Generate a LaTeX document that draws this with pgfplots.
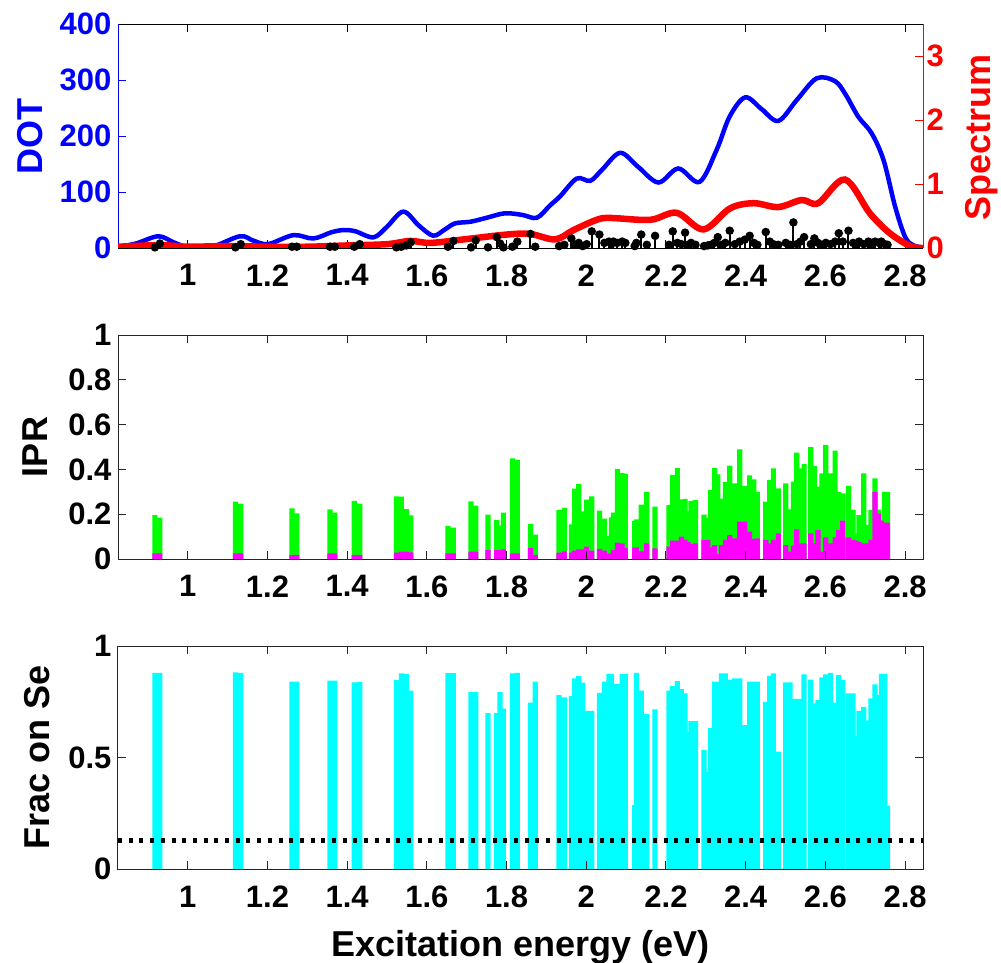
\documentclass[border=0pt]{standalone}
\usepackage{fontspec}
\setmainfont{Liberation Sans}
\usepackage{pgfplots}
\usepackage{pgfplotstable}
\pgfplotsset{compat=1.18}
\definecolor{axgray}{RGB}{38,38,38}
\definecolor{mblue}{RGB}{0,0,255}
\definecolor{mred}{RGB}{255,0,0}
\definecolor{mgreen}{RGB}{0,255,0}
\definecolor{mmag}{RGB}{255,0,255}
\definecolor{mcyan}{RGB}{0,255,255}

\pgfplotstableread{
E ipr mag frac f
0.9175 0.196 0.025 0.880 0.01
0.930 0.185 0.025 0.880 0.07
1.1195 0.256 0.025 0.882 0.01
1.133 0.247 0.025 0.880 0.06
1.2617 0.226 0.018 0.840 0.02
1.2735 0.204 0.018 0.840 0.02
1.357 0.222 0.025 0.845 0.02
1.369 0.207 0.025 0.845 0.02
1.418 0.260 0.018 0.837 0.02
1.4315 0.247 0.018 0.839 0.06
1.5235 0.280 0.028 0.848 0.01
1.536 0.278 0.033 0.878 0.02
1.5486 0.223 0.033 0.875 0.04
1.5596 0.195 0.030 0.800 0.09
1.653 0.147 0.025 0.879 0.02
1.6666 0.140 0.025 0.879 0.11
1.711 0.257 0.033 0.794 0.01
1.7227 0.238 0.033 0.794 0.12
1.7535 0.198 0.040 0.700 0.01
1.7754 0.174 0.040 0.700 0.17
1.7837 0.149 0.040 0.794 0.07
1.792 0.207 0.043 0.720 0.01
1.8146 0.449 0.025 0.878 0.02
1.827 0.443 0.025 0.880 0.10
1.860 0.156 0.050 0.746 0.22
1.872 0.109 0.018 0.840 0.02
1.9318 0.219 0.028 0.780 0.03
1.945 0.228 0.034 0.770 0.05
1.9626 0.155 0.028 0.776 0.15
1.971 0.314 0.037 0.855 0.05
1.981 0.335 0.043 0.866 0.08
1.991 0.213 0.043 0.836 0.03
2.001 0.265 0.055 0.709 0.06
2.0138 0.280 0.037 0.709 0.26
2.033 0.216 0.045 0.790 0.21
2.0455 0.180 0.037 0.840 0.08
2.057 0.103 0.025 0.875 0.10
2.063 0.186 0.025 0.875 0.06
2.068 0.207 0.040 0.830 0.10
2.078 0.402 0.073 0.830 0.08
2.090 0.384 0.070 0.875 0.10
2.098 0.380 0.050 0.875 0.08
2.1215 0.170 0.050 0.288 0.03
2.1257 0.177 0.052 0.880 0.08
2.138 0.243 0.034 0.800 0.21
2.152 0.300 0.070 0.695 0.05
2.1727 0.234 0.048 0.716 0.19
2.2077 0.241 0.055 0.800 0.05
2.217 0.376 0.082 0.820 0.26
2.2286 0.406 0.082 0.843 0.08
2.2387 0.266 0.100 0.807 0.06
2.248 0.268 0.085 0.788 0.24
2.2555 0.213 0.075 0.616 0.05
2.263 0.260 0.067 0.664 0.08
2.274 0.263 0.070 0.664 0.05
2.2956 0.198 0.085 0.534 0.03
2.305 0.183 0.085 0.437 0.04
2.3125 0.308 0.052 0.633 0.05
2.3215 0.406 0.062 0.840 0.08
2.330 0.378 0.022 0.840 0.17
2.339 0.270 0.062 0.878 0.05
2.349 0.344 0.085 0.878 0.08
2.360 0.417 0.107 0.850 0.27
2.3727 0.338 0.092 0.855 0.06
2.385 0.490 0.167 0.855 0.10
2.3977 0.326 0.167 0.646 0.13
2.410 0.373 0.122 0.840 0.19
2.4203 0.356 0.090 0.840 0.08
2.4294 0.300 0.092 0.840 0.05
2.4504 0.256 0.085 0.750 0.25
2.4605 0.353 0.070 0.866 0.10
2.4695 0.405 0.085 0.878 0.06
2.482 0.315 0.115 0.527 0.05
2.5006 0.338 0.062 0.837 0.08
2.5114 0.222 0.033 0.837 0.05
2.5198 0.345 0.060 0.763 0.40
2.5282 0.475 0.132 0.763 0.06
2.5373 0.405 0.070 0.763 0.10
2.5466 0.424 0.070 0.873 0.17
2.5634 0.500 0.115 0.850 0.06
2.5724 0.415 0.070 0.743 0.15
2.5817 0.323 0.130 0.758 0.08
2.5917 0.382 0.033 0.860 0.05
2.601 0.509 0.097 0.873 0.08
2.6126 0.382 0.070 0.880 0.06
2.6244 0.484 0.097 0.746 0.10
2.6336 0.300 0.130 0.870 0.23
2.6437 0.293 0.171 0.848 0.10
2.658 0.326 0.097 0.788 0.27
2.6695 0.219 0.085 0.788 0.08
2.6763 0.115 0.082 0.597 0.05
2.6846 0.196 0.077 0.710 0.10
2.6963 0.382 0.070 0.728 0.06
2.708 0.152 0.070 0.666 0.10
2.7146 0.219 0.085 0.766 0.05
2.7247 0.360 0.300 0.828 0.10
2.734 0.220 0.204 0.780 0.08
2.7405 0.171 0.171 0.875 0.10
2.749 0.300 0.162 0.875 0.06
2.756 0.300 0.162 0.284 0.05
}\states

\pgfplotstableread{
E dot
0.825 2
0.87 8
0.926 21
0.965 10
1.0 2
1.06 2
1.131 21
1.165 13
1.202 7
1.265 23
1.315 17
1.36 28
1.39 32
1.42 30
1.466 19
1.50 38
1.541 65
1.58 40
1.616 22
1.645 33
1.671 44
1.71 47
1.75 54
1.796 62
1.84 59
1.876 54
1.909 76
1.934 92
1.976 124
2.01 120
2.04 140
2.085 170
2.13 145
2.181 117
2.231 142
2.284 118
2.327 175
2.36 235
2.399 269
2.44 248
2.482 227
2.528 264
2.578 303
2.624 298
2.65 275
2.683 234
2.716 205
2.746 157
2.775 74
2.80 20
2.82 5
2.845 1
}\dotdata

\pgfplotstableread{
E spec
0.825 0.02
0.9 0.04
0.95 0.04
1.0 0.02
1.1 0.03
1.2 0.02
1.3 0.02
1.4 0.04
1.5 0.06
1.558 0.11
1.61 0.08
1.70 0.14
1.80 0.21
1.859 0.22
1.922 0.135
1.968 0.28
2.026 0.44
2.06 0.47
2.16 0.44
2.227 0.55
2.294 0.29
2.361 0.62
2.42 0.70
2.482 0.64
2.541 0.75
2.582 0.70
2.649 1.07
2.712 0.54
2.762 0.23
2.813 0.03
2.845 0.0
}\specdata

\newcommand{\tickfont}{\fontsize{31}{36}\selectfont\bfseries}
\newcommand{\labfont}{\fontsize{36}{42}\selectfont\bfseries}

\pgfplotsset{
  common/.style={
    scale only axis, width=805pt, anchor=south west,
    xmin=0.825, xmax=2.845,
    xtick={1,1.2,1.4,1.6,1.8,2,2.2,2.4,2.6,2.8},
    tick align=inside, major tick length=8pt,
    /pgf/number format/assume math mode=true,
    tick label style={font=\tickfont},
    xticklabel style={yshift=-13pt},
    label style={font=\labfont},
  },
  gaxis/.style={
    common, axis on top, axis line style={axgray, line width=1pt},
    every tick/.style={axgray, line width=1pt},
    xtick pos=both, ytick pos=both, xticklabel pos=left, yticklabel pos=left,
    yticklabel style={xshift=-3pt},
  }
}

\begin{document}
\begin{tikzpicture}
\useasboundingbox (0pt,0pt) rectangle (1001pt,-962pt);

% ---------- top panel, left axis (DOT)
\begin{axis}[common, at={(118pt,-248pt)}, height=224pt,
  ymin=0, ymax=400, ytick={0,100,200,300,400},
  separate axis lines,
  x axis line style={black, line width=1pt},
  y axis line style={mblue, line width=1pt},
  xtick pos=both, xticklabel pos=left,
  ytick pos=left, yticklabel pos=left,
  yticklabel style={mblue, xshift=-3pt},
  ytick style={mblue, line width=1pt}, xtick style={black, line width=1pt},
  ylabel={DOT}, ylabel style={mblue, at={(axis description cs:-0.109,0.5)}, anchor=center},
]
\addplot[mblue, line width=4.5pt, smooth, tension=0.55] table[x=E,y=dot]{\dotdata};
\end{axis}

% ---------- top panel, right axis (Spectrum)
\begin{axis}[common, at={(118pt,-248pt)}, height=224pt,
  axis y line*=right, axis x line=none,
  ymin=0, ymax=3.5, ytick={0,1,2,3},
  ytick pos=right, yticklabel pos=right,
  y axis line style={mred, line width=1pt},
  yticklabel style={mred},
  ytick style={mred, line width=1pt},
  ylabel={Spectrum}, ylabel style={mred, at={(axis description cs:1.073,0.493)}, anchor=center},
]
\addplot[mred, line width=6.5pt, smooth, tension=0.55] table[x=E,y=spec]{\specdata};
\addplot[black, line width=1pt] coordinates {(0.825,0) (2.845,0)};
\addplot[ycomb, black, line width=2pt, mark=*, mark size=3.2pt, mark options={solid, fill=black}] table[x=E,y=f]{\states};
\end{axis}

% ---------- middle panel (IPR)
\begin{axis}[gaxis, at={(118pt,-559pt)}, height=224pt,
  ymin=0, ymax=1, ytick={0,0.2,0.4,0.6,0.8,1},
  ylabel={IPR}, ylabel style={at={(axis description cs:-0.103,0.5)}, anchor=center},
]
\addplot[ybar, bar width=0.013, bar shift=0pt, fill=mgreen, draw=none] table[x=E,y=ipr]{\states};
\addplot[ybar, bar width=0.013, bar shift=0pt, fill=mmag, draw=none] table[x=E,y=mag]{\states};
\end{axis}

% ---------- bottom panel (Frac on Se)
\begin{axis}[gaxis, at={(118pt,-869.3pt)}, height=223.3pt,
  ymin=0, ymax=1, ytick={0,0.5,1},
  ylabel={Frac on Se}, ylabel style={at={(axis description cs:-0.1,0.5)}, anchor=center},
  xlabel={Excitation energy (eV)}, xlabel style={at={(axis description cs:0.5,0)}, anchor=base, yshift=-87pt},
]
\addplot[ybar, bar width=0.013, bar shift=0pt, fill=mcyan, draw=none] table[x=E,y=frac]{\states};
\addplot[black, line width=5pt, dash pattern=on 4pt off 6.7pt] coordinates {(0.825,0.131) (2.845,0.131)};
\end{axis}
\end{tikzpicture}
\end{document}
